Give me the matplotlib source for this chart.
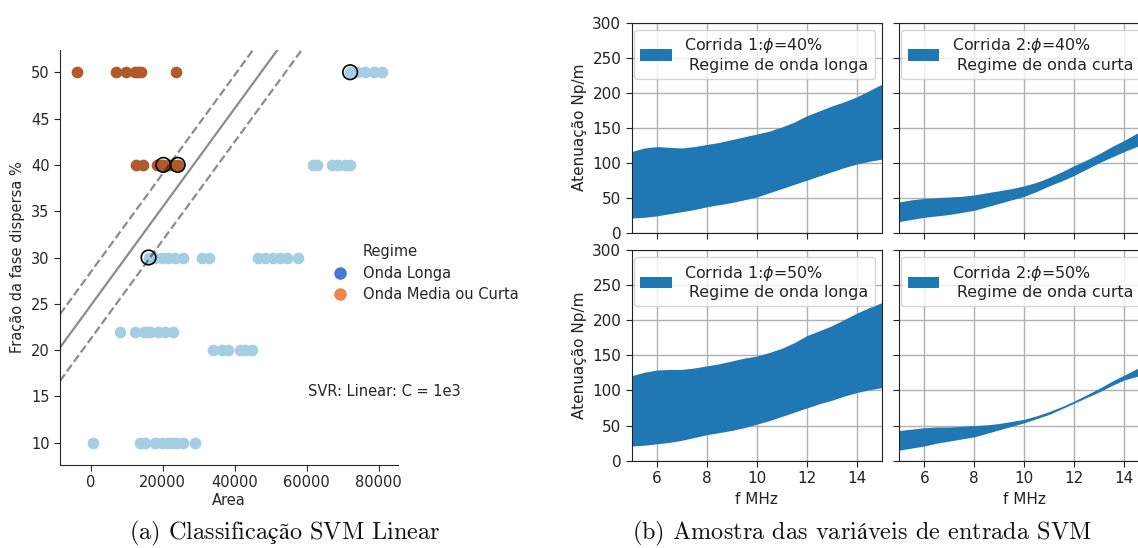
import numpy as np
import matplotlib
matplotlib.use("Agg")
import matplotlib.pyplot as plt
from matplotlib.lines import Line2D

# ---------------- data: SVM classification (left panel) ----------------
# Onda Longa (class 0)
longa_area = [72100, 73900, 76200, 78600, 80900,
              61900, 62800, 67000, 68800, 70700, 72100,
              16100, 17900, 19800, 21600, 23500, 25800, 30900, 32900,
              46600, 48500, 50800, 52600, 54500, 57700,
              8200, 12400, 14700, 15600, 16500, 18800, 20700, 23000,
              33900, 36400, 38300, 41500, 43000, 44800,
              800, 13800, 15000, 17900, 19800, 21600, 22800, 23900, 25800, 29000]
longa_frac = [50, 50, 50, 50, 50,
              40, 40, 40, 40, 40, 40,
              30, 30, 30, 30, 30, 30, 30, 30,
              30, 30, 30, 30, 30, 30,
              22, 22, 22, 22, 22, 22, 22, 22,
              20, 20, 20, 20, 20, 20,
              10, 10, 10, 10, 10, 10, 10, 10, 10, 10]
# Onda Media ou Curta (class 1)
curta_area = [-3700, 7100, 9900, 12400, 13300, 14000, 23700,
              12600, 14500, 18400, 19500, 20200, 21700, 23200, 24200]
curta_frac = [50, 50, 50, 50, 50, 50, 50,
              40, 40, 40, 40, 40, 40, 40, 40]
# support vectors
sv_area = [72100, 20200, 24200, 16100]
sv_frac = [50, 40, 40, 30]
# separating hyperplane  frac = slope * area + intercept, margins at +/- margin
svm_slope = 0.000532
svm_intercept = 24.8
svm_margin = 3.6

# ---------------- data: attenuation bands (right panels) ----------------
freq = [5, 5.5, 6, 6.5, 7, 7.5, 8, 8.5, 9, 9.5, 10,
        10.5, 11, 11.5, 12, 12.5, 13, 13.5, 14, 14.5, 15]
c1_40_low = [21, 22, 24, 27, 30, 33, 37, 40, 43, 47, 51,
             57, 63, 69, 75, 81, 87, 93, 98, 102, 105]
c1_40_high = [116, 121, 123, 122, 121, 123, 126, 129, 133, 137, 141,
              145, 151, 158, 167, 174, 181, 187, 194, 203, 212]
c1_50_low = [21, 22, 24, 26, 29, 33, 37, 40, 43, 47, 52,
             57, 63, 69, 75, 81, 86, 92, 97, 101, 104]
c1_50_high = [121, 126, 129, 130, 130, 132, 135, 138, 142, 146, 149,
              154, 160, 168, 178, 185, 192, 201, 210, 218, 225]
c2_40_low = [16, 19, 22, 24, 26, 29, 32, 37, 42, 47, 52,
             59, 67, 74, 82, 91, 100, 108, 116, 123, 130]
c2_40_high = [44, 47, 49, 50, 51, 52, 54, 57, 60, 63, 67,
              72, 79, 87, 96, 104, 113, 123, 132, 142, 150]
c2_50_low = [15, 18, 21, 25, 28, 31, 34, 39, 44, 49, 54,
             60, 66, 74, 82, 90, 98, 107, 115, 120, 126]
c2_50_high = [43, 45, 47, 48, 48, 49, 50, 51, 53, 56, 59,
              64, 70, 77, 85, 94, 103, 113, 122, 131, 138]

band_labels = ["Corrida 1:$\\phi$=40%\n Regime de onda longa",
               "Corrida 2:$\\phi$=40%\n Regime de onda curta",
               "Corrida 1:$\\phi$=50%\n Regime de onda longa",
               "Corrida 2:$\\phi$=50%\n Regime de onda curta"]

captions = ["(a) Classifica$\\mathrm{ç}$$\\mathrm{ã}$o SVM Linear",
            "(b) Amostra das vari$\\mathrm{á}$veis de entrada SVM"]

W, H = 1138, 548
fig = plt.figure(figsize=(W / 100, H / 100), dpi=100)


def frac_box(x0, y0, x1, y1):
    return [x0 / W, 1 - y1 / H, (x1 - x0) / W, (y1 - y0) / H]


# ---------------- left panel ----------------
paired = plt.cm.Paired
ax = fig.add_axes(frac_box(60, 50, 398, 465))
ax.scatter(longa_area, longa_frac, s=55, color=paired(0), zorder=2)
ax.scatter(curta_area, curta_frac, s=55, color=paired(11 / 11), zorder=2)
ax.scatter(sv_area, sv_frac, s=110, facecolors="none", edgecolors="k",
           linewidths=1.2, zorder=3)
for off, ls in [(svm_margin, "--"), (0, "-"), (-svm_margin, "--")]:
    ax.axline((0, svm_intercept + off), slope=svm_slope, color="k",
              alpha=0.45, lw=1.6, ls=ls, zorder=4)
ax.set_xlim(-8500, 85400)
ax.set_ylim(7.6, 52.4)
ax.set_xticks([0, 20000, 40000, 60000, 80000])
ax.set_yticks([10, 15, 20, 25, 30, 35, 40, 45, 50])
ax.tick_params(labelsize=10.5, length=4, color="#262626", labelcolor="#262626")
for s in ["top", "right"]:
    ax.spines[s].set_visible(False)
for s in ["left", "bottom"]:
    ax.spines[s].set_color("#262626")
ax.set_xlabel("Area", fontsize=10.5, color="#262626", labelpad=2)
ax.set_ylabel("Fração da fase dispersa %", fontsize=10.5, color="#262626")

handles = [Line2D([], [], ls="none", marker=None),
           Line2D([], [], ls="none", marker="o", ms=8, color="#4878d0"),
           Line2D([], [], ls="none", marker="o", ms=8, color="#ee854a")]
ax.legend(handles, ["Regime", "Onda Longa", "Onda Media ou Curta"],
          loc="center left", bbox_to_anchor=(0.765, 0.462), frameon=False,
          fontsize=10.5, handlelength=1.2, handletextpad=0.95,
          labelspacing=0.45, labelcolor="#262626")
ax.text(0.734, 0.176, "SVR: Linear: C = 1e3", transform=ax.transAxes,
        fontsize=10.5, color="#262626", va="center", ha="left")

# ---------------- right panels ----------------
bands = [(c1_40_low, c1_40_high), (c2_40_low, c2_40_high),
         (c1_50_low, c1_50_high), (c2_50_low, c2_50_high)]
boxes = [frac_box(631.7, 22.7, 881.7, 232.7), frac_box(899.3, 22.7, 1149.3, 232.7),
         frac_box(631.7, 250, 881.7, 460.7), frac_box(899.3, 250, 1149.3, 460.7)]
for i, ((lo, hi), box, lab) in enumerate(zip(bands, boxes, band_labels)):
    a = fig.add_axes(box)
    a.fill_between(freq, lo, hi, color="#1f77b4", lw=0, label=lab)
    a.set_xlim(5, 15)
    a.set_ylim(0, 300)
    a.set_xticks([6, 8, 10, 12, 14])
    a.set_yticks([0, 50, 100, 150, 200, 250, 300])
    a.grid(True, color="#b0b0b0", lw=1.0)
    a.set_axisbelow(True)
    a.tick_params(labelsize=11, length=4, color="#222222", labelcolor="#222222")
    for s in a.spines.values():
        s.set_color("#222222")
    if i < 2:
        a.tick_params(labelbottom=False)
    else:
        a.set_xlabel("f MHz", fontsize=11, color="#222222")
    if i % 2 == 1:
        a.tick_params(labelleft=False)
    else:
        a.set_ylabel("Atenuação Np/m", fontsize=11, color="#222222")
    a.legend(loc="upper left", bbox_to_anchor=(0.008, 0.965), borderaxespad=0,
             fontsize=11.4, labelcolor="#222222")

# ---------------- captions ----------------
for cx, cap in zip([285, 862], captions):
    fig.text(cx / W, 1 - 533 / H, cap, family="cmr10", math_fontfamily="cm",
             fontsize=17.5, ha="center", va="center", color="#111111")

fig.savefig("out.png", dpi=100)
